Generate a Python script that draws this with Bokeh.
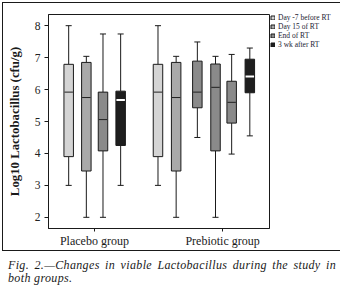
from bokeh.plotting import figure
from bokeh.models import (ColumnDataSource, Range1d, FixedTicker, Legend, LegendItem, Div)
from bokeh.layouts import column
from bokeh.embed import file_html
from bokeh.resources import INLINE

# ---------------- data ----------------
series = ["Day -7 before RT", "Day 15 of RT", "End of RT", "3 wk after RT"]
series_fill = ["#d4d4d4", "#a9a9a9", "#8a8a8a", "#1e1e1e"]
series_median = ["#222222", "#222222", "#222222", "#ffffff"]

groups = ["Placebo group", "Prebiotic group"]
group_ticks = [45.5, 172.5]

placebo_pos = [20, 37.5, 54, 71.5]
placebo_series = [0, 1, 2, 3]
placebo_low = [3.0, 2.0, 2.0, 3.0]
placebo_q1 = [3.9, 3.45, 4.08, 4.25]
placebo_med = [5.92, 5.75, 5.06, 5.67]
placebo_q3 = [6.79, 6.85, 5.92, 5.95]
placebo_high = [8.0, 7.04, 7.74, 7.74]

prebiotic_pos = [108.5, 126.5, 147.5, 165.5, 181.5, 199.5]
prebiotic_series = [0, 1, 2, 2, 2, 3]
prebiotic_low = [3.0, 2.0, 4.5, 2.0, 3.98, 4.55]
prebiotic_q1 = [3.9, 3.45, 5.43, 4.08, 4.95, 5.9]
prebiotic_med = [5.92, 5.75, 5.92, 6.07, 5.6, 6.41]
prebiotic_q3 = [6.79, 6.85, 6.89, 6.8, 6.26, 6.95]
prebiotic_high = [8.0, 7.04, 7.49, 7.04, 7.1, 7.3]

y_ticks = [2, 3, 4, 5, 6, 7, 8]

caption1 = "Fig. 2.\u2014Changes in viable Lactobacillus during the study in"
caption2 = "both groups."

# ---------------- build ----------------
pos = placebo_pos + prebiotic_pos
ser = placebo_series + prebiotic_series
low = placebo_low + prebiotic_low
q1 = placebo_q1 + prebiotic_q1
med = placebo_med + prebiotic_med
q3 = placebo_q3 + prebiotic_q3
high = placebo_high + prebiotic_high

BOX_W = 9.4
CAP_W = 6
INK = "#1a1a1a"

p = figure(output_backend="svg", toolbar_location=None,
           frame_width=219, frame_height=212,
           min_border_left=45, min_border_right=65,
           min_border_top=11, min_border_bottom=24,
           x_range=Range1d(0, 219), y_range=Range1d(1.65, 8.35),
           background_fill_color="white", border_fill_color="white")
p.outline_line_color = INK
p.outline_line_width = 1
p.grid.visible = False
p.styles = {"border": "1px solid " + INK, "margin": "2px 0 0 2px"}

# whiskers
allsrc = ColumnDataSource(dict(
    x=pos, low=low, q1=q1, q3=q3, high=high,
    cl=[x - CAP_W / 2 for x in pos], cr=[x + CAP_W / 2 for x in pos]))
p.segment(x0="x", y0="q3", x1="x", y1="high", source=allsrc, line_color=INK, line_width=1)
p.segment(x0="x", y0="low", x1="x", y1="q1", source=allsrc, line_color=INK, line_width=1)
p.segment(x0="cl", y0="high", x1="cr", y1="high", source=allsrc, line_color=INK, line_width=1)
p.segment(x0="cl", y0="low", x1="cr", y1="low", source=allsrc, line_color=INK, line_width=1)

items = []
for s, name in enumerate(series):
    idx = [i for i, v in enumerate(ser) if v == s]
    src = ColumnDataSource(dict(
        x=[pos[i] for i in idx], q1=[q1[i] for i in idx], q3=[q3[i] for i in idx],
        med=[med[i] for i in idx],
        ml=[pos[i] - BOX_W / 2 + 0.5 for i in idx], mr=[pos[i] + BOX_W / 2 - 0.5 for i in idx]))
    r = p.vbar(x="x", width=BOX_W, bottom="q1", top="q3", source=src,
               fill_color=series_fill[s], line_color=INK, line_width=1)
    p.segment(x0="ml", y0="med", x1="mr", y1="med", source=src,
              line_color=series_median[s], line_width=(2 if s == 3 else 1))
    items.append(LegendItem(label=name, renderers=[r]))

legend = Legend(items=items, location=(1, 179), orientation="vertical",
                glyph_width=5, glyph_height=5, label_height=6, spacing=0,
                label_standoff=3, padding=0, margin=0,
                border_line_color=None, background_fill_alpha=0,
                label_text_font="Liberation Serif", label_text_font_size="7.5px",
                label_text_line_height=1.0,
                label_text_color="#222233")
p.add_layout(legend, "right")

# y axis
p.yaxis.ticker = FixedTicker(ticks=y_ticks)
p.yaxis.minor_tick_line_color = None
p.yaxis.major_tick_in = 0
p.yaxis.major_tick_out = 4
p.yaxis.major_label_standoff = 4
p.yaxis.major_label_text_font = "Liberation Serif"
p.yaxis.major_label_text_font_size = "11.5px"
p.yaxis.major_label_text_color = "#222222"
p.yaxis.axis_line_color = INK
p.yaxis.major_tick_line_color = INK
p.yaxis.axis_label = "Log10 Lactobacillus (cfu/g)"
p.yaxis.axis_label_text_font = "Liberation Serif"
p.yaxis.axis_label_text_font_style = "bold"
p.yaxis.axis_label_text_font_size = "12.8px"
p.yaxis.axis_label_text_color = INK
p.yaxis.axis_label_standoff = 10

# x axis
p.xaxis.ticker = FixedTicker(ticks=group_ticks)
p.xaxis.major_label_overrides = {group_ticks[i]: groups[i] for i in range(len(groups))}
p.xaxis.minor_tick_line_color = None
p.xaxis.major_tick_in = 0
p.xaxis.major_tick_out = 3
p.xaxis.major_label_standoff = 2
p.xaxis.major_label_text_font = "Liberation Serif"
p.xaxis.major_label_text_font_size = "12px"
p.xaxis.major_label_text_color = INK
p.xaxis.axis_line_color = INK
p.xaxis.major_tick_line_color = INK

cap_style = ("font-family:'Liberation Serif';font-style:italic;font-size:12px;"
             "line-height:13px;color:#1a1a1a;letter-spacing:0.35px;")
cap = Div(text=('<div style="' + cap_style + 'width:328px;margin-left:3px;padding-top:3px;'
                'text-align:justify;text-align-last:justify;white-space:nowrap;">' + caption1 + '</div>'
                '<div style="' + cap_style + 'margin-left:3px;">' + caption2 + '</div>'),
          width=331, height=34)

layout = column(p, cap, spacing=0)

open("out.html", "w").write(file_html(layout, INLINE))
